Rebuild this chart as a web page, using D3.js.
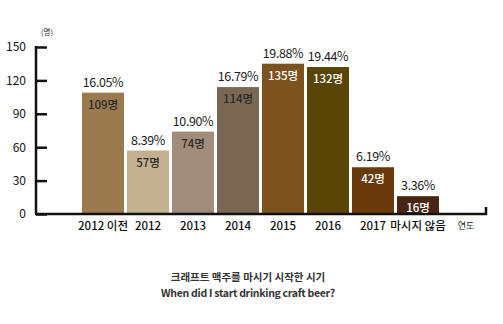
<!DOCTYPE html>
<html><head><meta charset="utf-8">
<script src="https://cdn.jsdelivr.net/npm/d3@7"></script>
<style>body{margin:0;background:#fff}svg{display:block}text{font-family:"Noto Sans CJK KR","Noto Sans",sans-serif}</style>
</head><body><svg id="c" width="503" height="324"></svg>
<script>
const categories = ["2012 이전","2012","2013","2014","2015","2016","2017","마시지 않음"];
const counts = [109,57,74,114,135,132,42,16];
const percents = ["16.05%","8.39%","10.90%","16.79%","19.88%","19.44%","6.19%","3.36%"];
const colors = ["#9c7a50","#c3b08f","#a28c7b","#7a6855","#7c531f","#594607","#6b3a0b","#4a2612"];
const countTextColors = ["#2a2a2a","#2a2a2a","#2a2a2a","#2a2a2a","#fff","#fff","#fff","#fff"];
const yTicks = [0,30,60,90,120,150];

const svg = d3.select("#c");
const x = d3.scaleBand().domain(categories).range([80.5,440.5]).paddingInner(3/45).paddingOuter(1.5/45);
const y = d3.scaleLinear().domain([0,150]).range([214,47]);

const yAxis = svg.append("g").attr("transform","translate(36,0)")
  .call(d3.axisRight(y).tickValues(yTicks).tickSize(11).tickFormat(""));
yAxis.select(".domain").attr("stroke","#111").attr("stroke-width",2.5).attr("d","M0,46V214");
yAxis.selectAll(".tick line").attr("stroke","#111").attr("stroke-width",2.5);
svg.selectAll(".ylab").data(yTicks).join("text").attr("class","ylab")
  .attr("x",26).attr("y",d=>y(d)).attr("dy","0.36em").attr("text-anchor","end")
  .attr("font-size",12).attr("fill","#111").text(d=>d);
svg.append("text").attr("x",47).attr("y",35).attr("text-anchor","middle").attr("font-size",7.5).attr("fill","#222").text("(명)");

svg.selectAll(".bar").data(categories).join("rect").attr("class","bar")
  .attr("x",d=>x(d)).attr("width",x.bandwidth())
  .attr("y",(d,i)=>y(counts[i])).attr("height",(d,i)=>y(0)-y(counts[i]))
  .attr("fill",(d,i)=>colors[i]);

svg.append("path").attr("d","M35,214H486V207").attr("fill","none").attr("stroke","#111").attr("stroke-width",2.5);

svg.selectAll(".pct").data(categories).join("text").attr("class","pct")
  .attr("x",d=>x(d)+x.bandwidth()/2).attr("y",(d,i)=>y(counts[i])-6)
  .attr("text-anchor","middle").attr("font-size",12.5).attr("font-weight",400).attr("fill","#1a1a1a")
  .attr("letter-spacing","-0.4").text((d,i)=>percents[i]);
svg.selectAll(".cnt").data(categories).join("text").attr("class","cnt")
  .attr("x",d=>x(d)+x.bandwidth()/2).attr("y",(d,i)=>y(counts[i])+16)
  .attr("text-anchor","middle").attr("font-size",11.5).attr("font-weight",500)
  .attr("fill",(d,i)=>countTextColors[i]).text((d,i)=>counts[i]+"명");
svg.selectAll(".xlab").data(categories).join("text").attr("class","xlab")
  .attr("x",d=>x(d)+x.bandwidth()/2).attr("y",230)
  .attr("text-anchor","middle").attr("font-size",11.5).attr("font-weight",500).attr("fill","#111").text(d=>d);
svg.append("text").attr("x",466).attr("y",229).attr("text-anchor","middle").attr("font-size",9).attr("fill","#222").text("연도");

svg.append("text").attr("x",248).attr("y",281).attr("text-anchor","middle").attr("font-size",10.5).attr("font-weight",700).attr("fill","#333").text("크래프트 맥주를 마시기 시작한 시기");
svg.append("text").attr("x",248).attr("y",297).attr("text-anchor","middle").attr("font-size",10.5).attr("font-weight",700).attr("fill","#333").attr("letter-spacing","-0.3").text("When did I start drinking craft beer?");
</script></body></html>
